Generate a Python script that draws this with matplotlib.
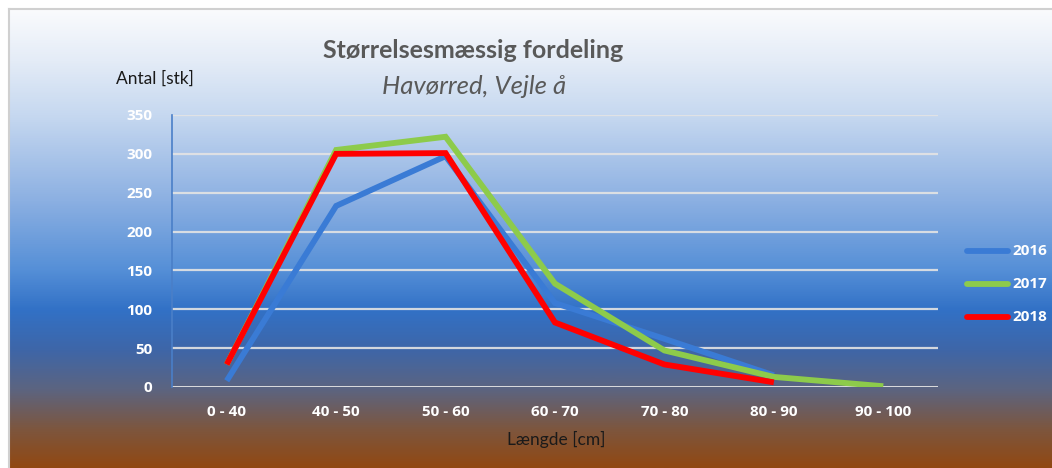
import numpy as np
import matplotlib
matplotlib.use("Agg")
import matplotlib.pyplot as plt
from matplotlib.colors import LinearSegmentedColormap
from matplotlib.lines import Line2D

categories = ["0 - 40", "40 - 50", "50 - 60", "60 - 70", "70 - 80", "80 - 90", "90 - 100"]
years = ["2016", "2017", "2018"]
values_2016 = [8, 233, 297, 108, 62, 15, None]
values_2017 = [29, 305, 322, 133, 47, 13, 1]
values_2018 = [29, 300, 301, 83, 29, 6, None]
yticks = [0, 50, 100, 150, 200, 250, 300, 350]
colors = {"2016": "#3A7BD5", "2017": "#8DCB4B", "2018": "#FF0000"}

plt.rcParams['font.family'] = ['Lato', 'DejaVu Sans']
tick_family = ['Open Sans', 'DejaVu Sans']

W, H = 1052, 468
fig = plt.figure(figsize=(W / 100, H / 100), dpi=100)
fig.patch.set_facecolor("white")

# background gradient
bg = fig.add_axes([9 / W, 0, 1 - 9 / W, (H - 9) / H])
bg.set_axis_off()
stops = [
    (10, (250, 251, 253)),
    (60, (228, 236, 247)),
    (115, (198, 216, 240)),
    (200, (140, 176, 226)),
    (270, (85, 143, 215)),
    (310, (50, 113, 198)),
    (350, (62, 102, 168)),
    (390, (92, 100, 128)),
    (430, (125, 86, 62)),
    (468, (145, 72, 18)),
]
y0, y1 = 9, 468
pos = [(s[0] - y0) / (y1 - y0) for s in stops]
pos[0] = 0.0
pos[-1] = 1.0
cmap = LinearSegmentedColormap.from_list(
    "bg", [(p, tuple(c / 255 for c in s[1])) for p, s in zip(pos, stops)])
grad = np.linspace(0, 1, 512).reshape(-1, 1)
bg.imshow(grad, aspect="auto", cmap=cmap, extent=[0, 1, 1, 0])
bg.set_xlim(0, 1)
bg.set_ylim(1, 0)

# border lines
fig.add_artist(Line2D([8.5 / W, 1], [1 - 8.5 / H, 1 - 8.5 / H], color="#D0D0D0", lw=1.5))
fig.add_artist(Line2D([8.5 / W, 8.5 / W], [0, 1 - 8.5 / H], color="#D0D0D0", lw=1.5))

# main axes
left, right, top, bottom = 172, 938, 115, 387
ax = fig.add_axes([left / W, (H - bottom) / H, (right - left) / W, (bottom - top) / H])
ax.patch.set_alpha(0)

x = np.arange(len(categories))
for yr, vals in zip(years, [values_2016, values_2017, values_2018]):
    xs = [xi for xi, v in zip(x, vals) if v is not None]
    vs = [v for v in vals if v is not None]
    ax.plot(xs, vs, color=colors[yr], lw=4.2, label=yr, solid_capstyle="butt",
            solid_joinstyle="miter", zorder=3)

ax.set_xlim(-0.5, len(categories) - 0.5)
ax.set_ylim(0, 350)
ax.set_yticks(yticks, labels=[str(v) for v in yticks], fontweight="bold",
              fontsize=11, color="white", family=tick_family)
ax.set_xticks(x, labels=categories, fontweight="bold", fontsize=11, color="white",
              family=tick_family)
for yv in yticks:
    ax.axhline(yv, color="#E4E4E4" if yv > 0 else "#E8E8E8", lw=1.6 if yv > 0 else 2.0,
               zorder=1, alpha=0.9 if yv > 0 else 1)
for s in ["top", "right", "bottom"]:
    ax.spines[s].set_visible(False)
ax.spines["left"].set_color("#4A7FC8")
ax.spines["left"].set_linewidth(1.2)
ax.tick_params(axis="both", length=0)
ax.tick_params(axis="y", pad=14)
ax.tick_params(axis="x", pad=13)

# titles
fig.text(473 / W, 1 - 51 / H, "Størrelsesmæssig fordeling", ha="center", va="center",
         fontsize=18, fontweight="bold", color="#595959")
fig.text(474 / W, 1 - 87 / H, "Havørred, Vejle å", ha="center", va="center",
         fontsize=18.5, style="italic", color="#595959")
fig.text(155 / W, 1 - 79 / H, "Antal [stk]", ha="center", va="center",
         fontsize=12.5, color="#1A1A1A")
fig.text(556 / W, 1 - 439 / H, "Længde [cm]", ha="center", va="center",
         fontsize=12.5, color="#1A1A1A")

# legend (drawn manually)
for yr, ly in zip(years, [251, 284, 317]):
    fig.add_artist(Line2D([967 / W, 1008 / W], [1 - ly / H, 1 - ly / H],
                          color=colors[yr], lw=4.2, solid_capstyle="round"))
    fig.text(1012 / W, 1 - ly / H, yr, ha="left", va="center", fontsize=11,
             fontweight="bold", color="white", family=tick_family)

fig.savefig("out.png", dpi=100)
